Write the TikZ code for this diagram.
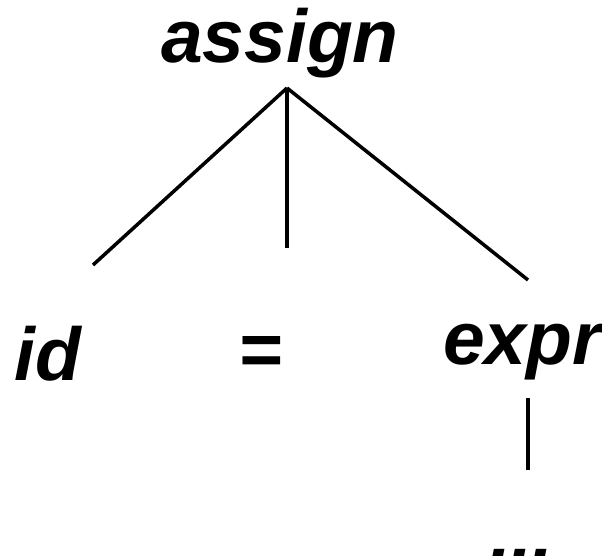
\documentclass[tikz,border=0pt]{standalone}
\usepackage{fontspec}
\setmainfont{Liberation Sans}
\usetikzlibrary{positioning}

\begin{document}
\begin{tikzpicture}[x=1pt, y=-1pt,
        sym/.style={font=\fontsize{75}{80}\selectfont\bfseries\itshape, inner sep=0pt, anchor=base},
        branch/.style={line width=3.5pt}]
        \useasboundingbox (0,0) rectangle (602,556);
        % nodes of the tree
        \node (assign) [sym] at (280,63) {assign};
        \node (id) [sym, anchor=base west] at (14,380) {id};
        \node (eq) [sym] at (260,375) {=};
        \node (expr) [sym, anchor=base west] at (443,364) {expr};
        \node (dots) [sym] at (522,560) {...};

        % ends of the branches
        \coordinate (top) at (287,88);
        \coordinate (idend) at (93,265);
        \coordinate (eqend) at (287,248);
        \coordinate (exprend) at (528,280);
        \coordinate (exprtop) at (528,398);
        \coordinate (dotsend) at (528,470);

        \draw[branch] (top) -- (idend);
        \draw[branch] (top) -- (eqend);
        \draw[branch] (top) -- (exprend);
        \draw[branch] (exprtop) -- (dotsend);
    \end{tikzpicture}
\end{document}
